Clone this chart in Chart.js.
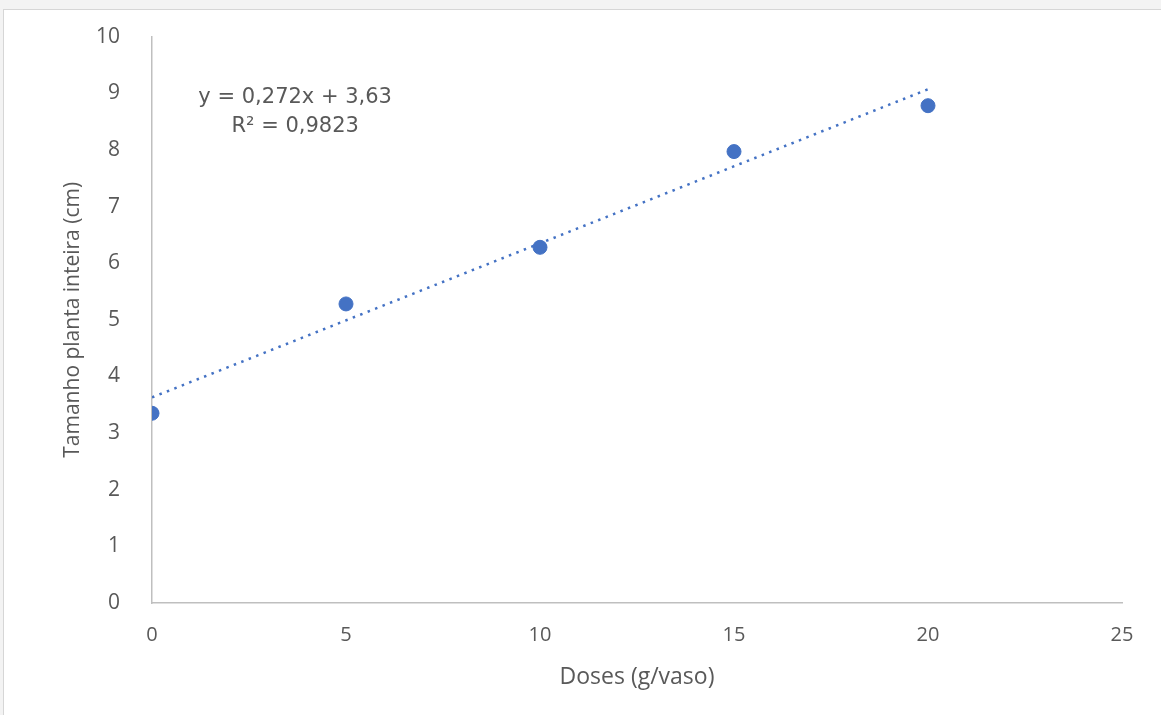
<!DOCTYPE html>
<html lang="pt">
<head>
  <meta charset="UTF-8">
  <title>Tamanho planta inteira x Doses</title>
  <script src="https://cdn.jsdelivr.net/npm/chart.js@4.4.0/dist/chart.umd.min.js"></script>
  <style>
    html, body { margin: 0; padding: 0; background: #f3f3f3; overflow: hidden; }
    #frame { position: absolute; left: 3px; top: 9px; width: 1170px; height: 720px; background: #fff; border: 1px solid #d6d6d6; }
    #wrap { position: absolute; left: 0; top: 0; width: 1161px; height: 715px; }
  </style>
</head>
<body>
<div id="frame"></div>
<div id="wrap"><canvas id="myChart"></canvas></div>

<script>
// data
const doses = [0, 5, 10, 15, 20];
const tamanho = [3.35, 5.28, 6.28, 7.97, 8.78];

// linear trendline as printed on the chart
const slope = 0.272;
const intercept = 3.63;
const trendX = [0, 20];
const trendLabel = ['y = 0,272x + 3,63', 'R² = 0,9823'];

const blue = '#4472c4';
const grey = '#595959';
const axisLine = '#bfbfbf';
const openSans = '"Open Sans", sans-serif';
const dejavu = '"DejaVu Sans", sans-serif';

// writes the equation text next to the trendline (axis units)
const equationText = {
  id: 'equationText',
  afterDatasetsDraw(chart) {
    const {ctx, scales: {x, y}} = chart;
    ctx.save();
    ctx.fillStyle = grey;
    ctx.font = '21px ' + dejavu;
    ctx.textAlign = 'center';
    ctx.textBaseline = 'middle';
    ctx.fillText(trendLabel[0], x.getPixelForValue(3.69), y.getPixelForValue(8.93));
    ctx.fillText(trendLabel[1], x.getPixelForValue(3.69), y.getPixelForValue(8.41));
    ctx.restore();
  }
};

let myChart = new Chart(document.getElementById('myChart').getContext('2d'), {
  type: 'scatter',
  data: {
    datasets: [{
      label: 'Tamanho',
      data: doses.map((d, i) => ({x: d, y: tamanho[i]})),
      backgroundColor: blue,
      borderColor: blue,
      pointRadius: 7,
      pointHoverRadius: 7,
      order: 1
    }, {
      label: 'Linear',
      data: trendX.map(d => ({x: d, y: slope * d + intercept})),
      showLine: true,
      borderColor: blue,
      borderWidth: 2.5,
      borderDash: [2.5, 5.5],
      pointRadius: 0,
      fill: false,
      order: 2
    }]
  },
  options: {
    responsive: true,
    maintainAspectRatio: false,
    animation: false,
    layout: { padding: { top: 36, right: 39, left: 60, bottom: 24 } },
    plugins: {
      legend: { display: false },
      tooltip: { enabled: false }
    },
    scales: {
      x: {
        type: 'linear',
        min: 0,
        max: 25,
        ticks: { stepSize: 5, color: grey, padding: 12, font: { size: 20, family: openSans } },
        grid: { display: false },
        border: { display: true, color: axisLine, width: 1.5 },
        title: { display: true, text: 'Doses (g/vaso)', color: grey, padding: 0, font: { size: 23, family: openSans } },
        afterFit(scale) { scale.height = 88; }
      },
      y: {
        min: 0,
        max: 10,
        ticks: { stepSize: 1, color: grey, padding: 24, font: { size: 21, family: openSans } },
        grid: { display: false },
        border: { display: true, color: axisLine, width: 1.5 },
        title: { display: true, text: 'Tamanho planta inteira (cm)', color: grey, padding: 0, font: { size: 21, family: openSans } },
        afterFit(scale) { scale.width = 92; }
      }
    }
  },
  plugins: [equationText]
});
</script>
</body>
</html>
